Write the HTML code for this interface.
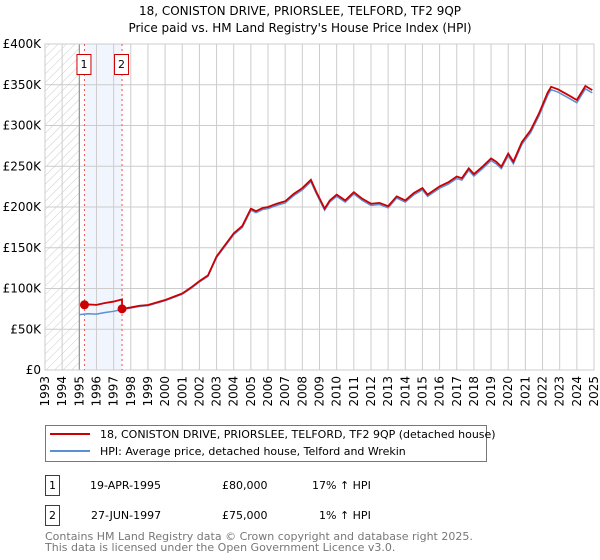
<!DOCTYPE html>
<html><head><meta charset="utf-8"><style>
body{margin:0;background:#fff;width:600px;height:560px;overflow:hidden;font-family:"DejaVu Sans","Liberation Sans",sans-serif;}
svg{display:block}
</style></head><body>
<svg id="chart" width="600" height="560" xmlns="http://www.w3.org/2000/svg" font-family="DejaVu Sans, Liberation Sans, sans-serif">
<defs><pattern id="hatch" patternUnits="userSpaceOnUse" width="6" height="6" patternTransform="rotate(45)"><line x1="0" y1="0" x2="0" y2="6" stroke="#ccc" stroke-width="1"/></pattern></defs>
<text x="300" y="15" text-anchor="middle" font-size="12">18, CONISTON DRIVE, PRIORSLEE, TELFORD, TF2 9QP</text>
<text x="300" y="32" text-anchor="middle" font-size="12">Price paid vs. HM Land Registry's House Price Index (HPI)</text>
<g id="plot"></g>
<g>
<rect x="45.5" y="425.5" width="441" height="36" fill="#fff" stroke="#777"/>
<line x1="50" y1="434" x2="90" y2="434" stroke="#cc0000" stroke-width="2"/>
<text x="100" y="438" font-size="11">18, CONISTON DRIVE, PRIORSLEE, TELFORD, TF2 9QP (detached house)</text>
<line x1="50" y1="451" x2="90" y2="451" stroke="#5b8fd6" stroke-width="2"/>
<text x="100" y="455" font-size="11">HPI: Average price, detached house, Telford and Wrekin</text>
</g>
<g font-size="11">
<rect x="45.5" y="475.5" width="14" height="20" fill="#fff" stroke="#cc0000"/>
<text x="52.5" y="489" text-anchor="middle">1</text>
<text x="90" y="489">19-APR-1995</text><text x="222" y="489">£80,000</text><text x="312" y="489">17% ↑ HPI</text>
<rect x="45.5" y="505.5" width="14" height="20" fill="#fff" stroke="#cc0000"/>
<text x="52.5" y="519" text-anchor="middle">2</text>
<text x="91" y="519">27-JUN-1997</text><text x="222" y="519">£75,000</text><text x="319" y="519">1% ↑ HPI</text>
</g>
<g font-size="11" fill="#777">
<text x="45" y="540">Contains HM Land Registry data © Crown copyright and database right 2025.</text>
<text x="45" y="551">This data is licensed under the Open Government Licence v3.0.</text>
</g>
</svg>
<script>
const hpiDates=[1995.0,1995.5,1996.0,1996.5,1997.0,1997.5,1998.0,1998.5,1999.0,1999.5,2000.0,2000.5,2001.0,2001.5,2002.0,2002.5,2003.0,2003.5,2004.0,2004.5,2005.0,2005.3,2005.7,2006.0,2006.5,2007.0,2007.5,2008.0,2008.5,2008.8,2009.3,2009.6,2010.0,2010.5,2011.0,2011.5,2012.0,2012.5,2013.0,2013.5,2014.0,2014.5,2015.0,2015.3,2016.0,2016.5,2017.0,2017.3,2017.7,2018.0,2018.5,2019.0,2019.3,2019.6,2020.0,2020.3,2020.8,2021.3,2021.8,2022.3,2022.5,2022.9,2023.5,2024.0,2024.5,2024.9];
const hpiValues=[68000,69000,68500,70500,72000,74300,76000,78000,79000,82000,85000,89000,93000,100000,108000,115000,138000,152000,166000,175000,196000,193000,197000,198000,202000,205000,214000,221000,231000,217000,196000,206000,213000,206000,216000,208000,202000,203000,199000,211000,206000,215000,221000,213000,223000,228000,235000,233000,245000,238000,247000,257000,253000,247000,263000,253000,277000,291000,312000,337000,344000,341000,334000,328000,345000,340000];
const saleDates=[1995.30,1997.49];
const salePrices=[80000,75000];
const yTicks=[0,50000,100000,150000,200000,250000,300000,350000,400000];
const yTickLabels=["£0","£50K","£100K","£150K","£200K","£250K","£300K","£350K","£400K"];
const xYears=[1993,1994,1995,1996,1997,1998,1999,2000,2001,2002,2003,2004,2005,2006,2007,2008,2009,2010,2011,2012,2013,2014,2015,2016,2017,2018,2019,2020,2021,2022,2023,2024,2025];
const X0=45,X1=594,Y0=370,Y1=44;
const xs=t=>X0+(t-1993)/(2025-1993)*(X1-X0);
const ys=v=>Y0-v/400000*(Y0-Y1);
const NS="http://www.w3.org/2000/svg";
const g=document.getElementById('plot');
function mk(tag,attrs,parent){const e=document.createElementNS(NS,tag);for(const k in attrs)e.setAttribute(k,attrs[k]);(parent||g).appendChild(e);return e;}
let e=mk('rect',{x:X0,y:Y1,width:xs(1995)-X0,height:Y0-Y1,fill:'url(#hatch)'});


e=mk('rect',{x:xs(saleDates[0]),y:Y1,width:xs(saleDates[1])-xs(saleDates[0]),height:Y0-Y1,fill:'#f1f5fd'});


yTicks.forEach((v,i)=>{
  const l=mk('line',{x1:X0,x2:X1,y1:ys(v),y2:ys(v),stroke:'#ccc'});
  
  
  const t=mk('text',{x:X0-4,y:ys(v)+4,'text-anchor':'end','font-size':'12'});
  t.textContent=yTickLabels[i];
  
  
});
xYears.forEach(yr=>{
  const l=mk('line',{x1:xs(yr),x2:xs(yr),y1:Y1,y2:Y0,stroke:'#ccc'});
  
  
  const t=mk('text',{x:0,y:0,'text-anchor':'end','font-size':'12',transform:`translate(${xs(yr)+4},${Y0+6}) rotate(-90)`});
  t.textContent=yr;
  
  
});
e=mk('line',{x1:xs(1995),x2:xs(1995),y1:Y1,y2:Y0,stroke:'#888'});


e=mk('rect',{x:X0,y:Y1,width:X1-X0,height:Y0-Y1,fill:'none',stroke:'#ccc'});


saleDates.forEach((d,i)=>{
  const l=mk('line',{x1:xs(d),x2:xs(d),y1:Y1,y2:Y0,stroke:'#e55','stroke-dasharray':'2,3'});
  
  
  const r=mk('rect',{x:xs(d)-7.5,y:54.5,width:14,height:20,fill:'#fff',stroke:'#cc0000'});
  
  
  const t=mk('text',{x:xs(d)-0.5,y:68,'text-anchor':'middle','font-size':'11'});
  t.textContent=String(i+1);
  
  
});
function interp(d){for(let i=0;i<hpiDates.length-1;i++){if(d<=hpiDates[i+1]){const f=(d-hpiDates[i])/(hpiDates[i+1]-hpiDates[i]);return hpiValues[i]+f*(hpiValues[i+1]-hpiValues[i]);}}return hpiValues[hpiValues.length-1];}
e=mk('polyline',{points:hpiDates.map((d,i)=>xs(d)+','+ys(hpiValues[i])).join(' '),fill:'none',stroke:'#5b8fd6','stroke-width':'1.5'});


const pts=[];
hpiDates.forEach((d,i)=>{
  let f;
  if(d<saleDates[0])return;
  if(d<saleDates[1])f=salePrices[0]/interp(saleDates[0]);else f=salePrices[1]/interp(saleDates[1]);
  pts.push([d,hpiValues[i]*f]);
});
pts.unshift([saleDates[0],salePrices[0]]);
const i2=pts.findIndex(p=>p[0]>=saleDates[1]);
pts.splice(i2,0,[saleDates[1],salePrices[0]/interp(saleDates[0])*interp(saleDates[1])],[saleDates[1],salePrices[1]]);
e=mk('polyline',{points:pts.map(p=>xs(p[0])+','+ys(p[1])).join(' '),fill:'none',stroke:'#cc0000','stroke-width':'1.8'});


saleDates.forEach((d,i)=>{
  const c=mk('circle',{cx:xs(d),cy:ys(salePrices[i]),r:4.5,fill:'#cc0000'});
  
  
});
</script>
</body></html>
